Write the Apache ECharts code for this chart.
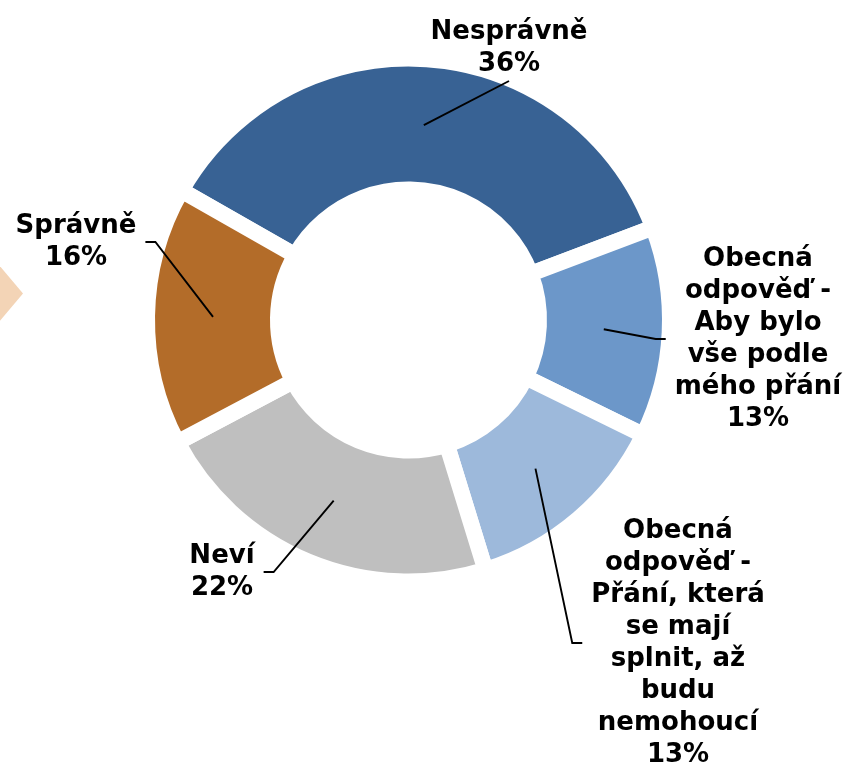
<!DOCTYPE html>
<html>
<head>
<meta charset="utf-8">
<script src="https://cdn.jsdelivr.net/npm/echarts@6/dist/echarts.min.js"></script>
<style>
html,body{margin:0;padding:0;background:#ffffff;}
#chart{width:850px;height:767px;}
</style>
</head>
<body>
<div id="chart"></div>
<script>
// ---- data ----
const categories = [
  'Nesprávně',
  'Obecná odpověď - Aby bylo vše podle mého přání',
  'Obecná odpověď - Přání, která se mají splnit, až budu nemohoucí',
  'Neví',
  'Správně'
];
const labelTexts = [
  'Nesprávně',
  'Obecná\nodpověď -\nAby bylo\nvše podle\nmého přání',
  'Obecná\nodpověď -\nPřání, která\nse mají\nsplnit, až\nbudu\nnemohoucí',
  'Neví',
  'Správně'
];
const values = [36, 13, 13, 22, 16];
const colors = ['#386294', '#6C97C9', '#9DB9DB', '#BFBFBF', '#B36C29'];

// ---- layout (not data) ----
const CX = 408.5, CY = 320;
const ANCHOR_R = 195.5;
const labelPos = [
  { x: 509, y: 48, side: 'bottom' },
  { x: 758, y: 339, side: 'left' },
  { x: 678, y: 643, side: 'left' },
  { x: 222, y: 572, side: 'right' },
  { x: 76, y: 242, side: 'right' }
];

const chart = echarts.init(document.getElementById('chart'), null, { renderer: 'canvas' });

const sliceData = categories.map((name, i) => ({
  name: name,
  value: values[i],
  itemStyle: { color: colors[i] }
}));
const labelData = categories.map((name, i) => ({
  name: name,
  value: values[i]
}));

const common = {
  type: 'pie',
  center: [CX, CY],
  radius: [130.5, 261.5],
  startAngle: 150.3,
  clockwise: true,
  avoidLabelOverlap: false,
  emphasis: { disabled: true }
};

chart.setOption({
  animation: false,
  backgroundColor: '#ffffff',
  graphic: [{
    type: 'polygon',
    shape: { points: [[-2, 264], [23, 293.5], [-2, 323]] },
    style: { fill: '#F3D4B6' },
    silent: true
  }],
  series: [
    Object.assign({}, common, {
      name: 'slices',
      z: 2,
      data: sliceData,
      itemStyle: { borderWidth: 16, borderColor: '#ffffff', borderJoin: 'miter' },
      label: { show: false },
      labelLine: { show: false }
    }),
    Object.assign({}, common, {
      name: 'labels',
      z: 5,
      silent: true,
      data: labelData,
      itemStyle: { color: 'rgba(0,0,0,0)', borderWidth: 0 },
      label: {
        show: true,
        position: 'outside',
        overflow: 'none',
        formatter: p => labelTexts[p.dataIndex] + '\n' + Math.round(p.percent) + '%',
        fontFamily: 'DejaVu Sans',
        fontWeight: 'bold',
        fontSize: 26,
        lineHeight: 32,
        color: '#000000',
        align: 'center'
      },
      labelLine: {
        show: true,
        length: 0,
        length2: 0,
        lineStyle: { color: '#000000', width: 1.9 }
      },
      labelLayout: function (p) {
        const i = p.dataIndex;
        const L = labelPos[i];
        const w = p.labelRect ? p.labelRect.width : 0;
        const h = p.labelRect ? p.labelRect.height : 0;
        const out = { x: L.x, y: L.y, align: 'center', verticalAlign: 'middle' };
        const pts = p.labelLinePoints;
        if (pts && pts.length) {
          const dx = pts[0][0] - CX, dy = pts[0][1] - CY;
          const d = Math.hypot(dx, dy) || 1;
          const a = [CX + dx / d * ANCHOR_R, CY + dy / d * ANCHOR_R];
          let end, bend;
          if (L.side === 'bottom') {
            end = [L.x, L.y + h / 2 + 1];
            bend = end;
          } else if (L.side === 'left') {
            end = [L.x - w / 2 - 9, L.y];
            bend = [end[0] - 10, L.y];
          } else {
            end = [L.x + w / 2 + 9, L.y];
            bend = [end[0] + 10, L.y];
          }
          out.labelLinePoints = [a, bend, end];
        }
        return out;
      }
    })
  ]
});
</script>
</body>
</html>
